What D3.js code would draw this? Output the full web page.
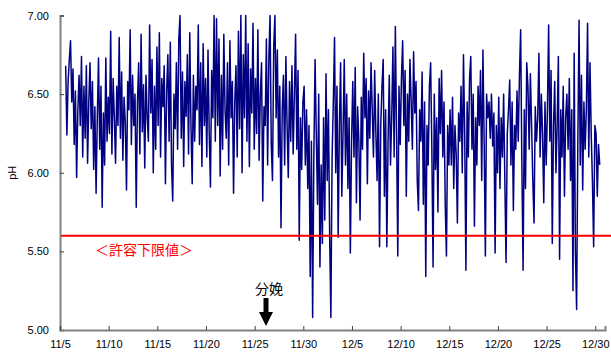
<!DOCTYPE html>
<html>
<head>
<meta charset="utf-8">
<script src="https://cdn.jsdelivr.net/npm/d3@7"></script>
<style>
  body { margin: 0; background: #fff; }
  svg { display: block; }
  text { font-family: Arial, "Liberation Sans", sans-serif; }
</style>
</head>
<body>
<svg id="chart" width="611" height="354"></svg>
<script>
//first reading and spacing between readings (hours)
var startTime = "2000-11-05T14:00:00"
var stepHours = 3

//pH readings, one row per day (8 a day)
var ph = [
  6.68, 6.24, 6.58, 6.72,
  6.84, 6.45, 6.66, 6.18, 6.52, 5.97, 6.40, 6.62,
  6.30, 6.74, 6.10, 6.55, 6.22, 6.68, 6.06, 6.45,
  6.70, 6.28, 6.58, 6.02, 6.42, 5.87, 6.35, 6.73,
  6.15, 6.55, 5.78, 6.38, 6.05, 6.73, 6.20, 6.48,
  6.25, 6.90, 6.12, 6.60, 6.35, 6.06, 6.55, 6.30,
  6.86, 6.22, 6.64, 6.08, 6.48, 6.32, 5.89, 6.58,
  6.40, 6.91, 6.18, 6.62, 6.30, 6.50, 5.78, 6.45,
  6.70, 6.12, 6.88, 6.26, 6.56, 6.03, 6.62, 6.35,
  6.20, 6.94, 6.38, 6.72, 6.00, 6.55, 6.15, 6.80,
  6.30, 6.89, 6.10, 6.60, 6.42, 6.68, 5.93, 6.52,
  6.75, 6.20, 6.83, 6.05, 5.82, 6.50, 6.28, 6.70,
  6.15, 6.85, 7.00, 6.22, 6.64, 6.04, 6.58, 6.36,
  6.75, 6.12, 6.89, 6.30, 5.93, 6.62, 6.20, 6.55,
  6.40, 6.94, 6.18, 6.70, 6.04, 6.82, 6.30, 6.60,
  6.10, 6.78, 6.25, 5.91, 6.65, 6.35, 7.00, 6.20,
  6.98, 6.30, 6.85, 5.98, 6.62, 6.15, 6.88, 6.40,
  6.22, 6.70, 6.05, 6.84, 6.35, 6.58, 5.87, 6.45,
  6.68, 6.10, 6.90, 6.28, 7.00, 6.00, 6.75, 6.35,
  7.00, 6.20, 6.82, 6.04, 6.66, 6.38, 6.95, 6.15,
  6.60, 6.25, 6.91, 6.08, 6.50, 6.70, 5.82, 6.42,
  6.30, 6.85, 6.05, 6.72, 7.00, 6.18, 5.95, 6.80,
  7.00, 6.35, 6.78, 6.10, 6.55, 5.65, 6.40, 6.62,
  6.05, 6.74, 6.30, 5.97, 6.58, 6.20, 6.68, 6.12,
  6.50, 6.88, 6.15, 6.65, 5.57, 6.35, 6.02, 6.45,
  6.55, 6.05, 6.40, 5.90, 6.30, 5.34, 6.20, 5.08,
  6.10, 6.72, 6.25, 5.80, 6.50, 5.40, 6.05, 5.55,
  6.35, 5.70, 6.63, 5.95, 6.40, 5.60, 5.08, 6.10,
  6.45, 6.86, 6.00, 6.55, 5.59, 6.30, 6.70, 5.85,
  6.25, 6.72, 6.05, 6.50, 5.90, 6.35, 5.49, 6.20,
  6.58, 6.10, 6.67, 5.81, 6.42, 6.20, 5.70, 6.48,
  6.15, 6.76, 6.35, 6.60, 5.93, 6.52, 6.22, 6.70,
  6.40, 6.10, 6.65, 6.25, 5.95, 6.50, 5.53, 6.30,
  6.55, 6.72, 5.85, 6.40, 5.53, 6.20, 6.62, 6.05,
  6.35, 6.80, 6.10, 6.93, 6.25, 5.47, 6.55, 6.18,
  6.60, 6.84, 6.30, 6.65, 5.85, 6.50, 6.20, 6.72,
  6.45, 6.15, 6.77, 6.38, 6.58, 5.95, 5.76, 6.40,
  6.20, 6.64, 5.80, 6.45, 5.34, 6.30, 6.05, 6.55,
  6.70, 6.15, 5.40, 6.50, 6.02, 6.35, 5.75, 6.60,
  6.25, 6.65, 6.10, 6.45, 5.80, 5.47, 6.30, 6.05,
  6.40, 6.05, 6.48, 5.90, 6.30, 6.12, 5.68, 6.38,
  6.20, 6.55, 6.00, 6.75, 6.25, 5.38, 6.45, 6.10,
  6.60, 6.74, 6.15, 6.50, 5.66, 6.35, 6.05, 6.55,
  6.30, 6.65, 5.95, 6.78, 6.20, 5.47, 6.50, 6.35,
  6.45, 6.22, 6.50, 6.17, 6.38, 5.49, 6.30, 6.00,
  6.48, 5.90, 6.35, 6.10, 6.50, 5.95, 5.43, 6.25,
  6.40, 6.59, 6.05, 6.45, 5.76, 6.30, 6.15, 6.52,
  6.20, 6.62, 6.91, 6.05, 5.38, 6.40, 5.90, 6.70,
  6.55, 6.15, 6.63, 6.30, 5.95, 5.68, 6.42, 6.20,
  6.35, 6.76, 6.10, 6.50, 6.25, 5.81, 6.45, 6.05,
  6.40, 6.94, 6.20, 6.65, 5.55, 6.30, 6.58, 6.00,
  6.30, 6.74, 5.45, 6.40, 6.10, 6.55, 5.85, 6.35,
  6.50, 6.15, 6.60, 5.95, 6.40, 5.25, 6.76, 5.50,
  5.13, 6.20, 6.97, 6.05, 6.62, 5.89, 6.45, 6.15,
  6.40, 6.95, 6.10, 6.70, 6.25, 5.95, 5.53, 6.30,
  6.25, 5.85, 6.18, 6.05
]

//axes
var xStart = "2000-11-05", xEnd = "2000-12-31"
var xTickDates = ["2000-11-05", "2000-11-10", "2000-11-15", "2000-11-20", "2000-11-25", "2000-11-30",
                  "2000-12-05", "2000-12-10", "2000-12-15", "2000-12-20", "2000-12-25", "2000-12-30"]
var xTickLabels = ["11/5", "11/10", "11/15", "11/20", "11/25", "11/30",
                   "12/5", "12/10", "12/15", "12/20", "12/25", "12/30"]
var yTicks = [5.0, 5.5, 6.0, 6.5, 7.0]

//limit line and the calving mark
var lowerLimit = 5.6
var limitLabel = "＜許容下限値＞"
var calvingTime = "2000-11-26T04:00:00"
var calvingLabel = "分娩"

var svg = d3.select("#chart")
var parse = d3.isoParse

var x = d3.scaleTime()
    .domain([parse(xStart), parse(xEnd)])
    .range([60, 605])
var y = d3.scaleLinear()
    .domain([5, 7])
    .range([330, 15.5])

var t0 = parse(startTime).getTime()
var points = ph.map(function(v, i) {
    return { t: new Date(t0 + i * stepHours * 3600000), v: v }
})

//the pH trace
var line = d3.line()
    .x(function(d) { return x(d.t) })
    .y(function(d) { return y(d.v) })

svg.append("path")
    .datum(points)
    .attr("fill", "none")
    .attr("stroke", "#000080")
    .attr("stroke-width", 1.5)
    .attr("stroke-linejoin", "round")
    .attr("d", line)

//lower limit line
svg.append("line")
    .attr("x1", x.range()[0]).attr("x2", 611)
    .attr("y1", y(lowerLimit)).attr("y2", y(lowerLimit))
    .attr("stroke", "#ff0000")
    .attr("stroke-width", 2)

svg.append("text")
    .attr("x", 95)
    .attr("y", y(lowerLimit) + 19)
    .attr("fill", "#ff0000")
    .style("font-family", "'Noto Sans CJK JP', sans-serif")
    .style("font-size", "14px")
    .text(limitLabel)

//y axis
var yAxis = d3.axisLeft(y)
    .tickValues(yTicks)
    .tickFormat(d3.format(".2f"))
    .tickSize(-4)
    .tickPadding(11)
var gy = svg.append("g")
    .attr("transform", "translate(60,0)")
    .call(yAxis)
gy.select(".domain").attr("stroke", "#808080").attr("stroke-width", 2)
gy.selectAll(".tick line").attr("stroke", "#404040").attr("stroke-width", 1)
gy.selectAll(".tick text").style("font-size", "11px").attr("fill", "#000")

//x axis
var xAxis = d3.axisBottom(x)
    .tickValues(xTickDates.map(function(s) { return parse(s) }))
    .tickFormat(function(d, i) { return xTickLabels[i] })
    .tickSize(-4)
    .tickPadding(10)
var gx = svg.append("g")
    .attr("transform", "translate(0,330)")
    .call(xAxis)
gx.select(".domain").attr("stroke", "#808080").attr("stroke-width", 2)
gx.selectAll(".tick line").attr("stroke", "#404040").attr("stroke-width", 1)
gx.selectAll(".tick text").style("font-size", "11px").attr("fill", "#000")

svg.append("text")
    .attr("transform", "translate(16," + y(6) + ") rotate(-90)")
    .attr("text-anchor", "middle")
    .style("font-size", "11px")
    .text("pH")

//calving arrow
var cx = x(parse(calvingTime))
svg.append("text")
    .attr("x", cx + 3)
    .attr("y", 294)
    .attr("text-anchor", "middle")
    .style("font-family", "'Noto Sans CJK JP', sans-serif")
    .style("font-size", "14px")
    .text(calvingLabel)

svg.append("path")
    .attr("d", "M" + (cx - 2.5) + ",298 L" + (cx + 2.5) + ",298 L" + (cx + 2.5) + ",312 L" + (cx + 7) + ",312 L" + cx + ",326 L"
        + (cx - 7) + ",312 L" + (cx - 2.5) + ",312 Z")
    .attr("fill", "#000")
</script>
</body>
</html>
